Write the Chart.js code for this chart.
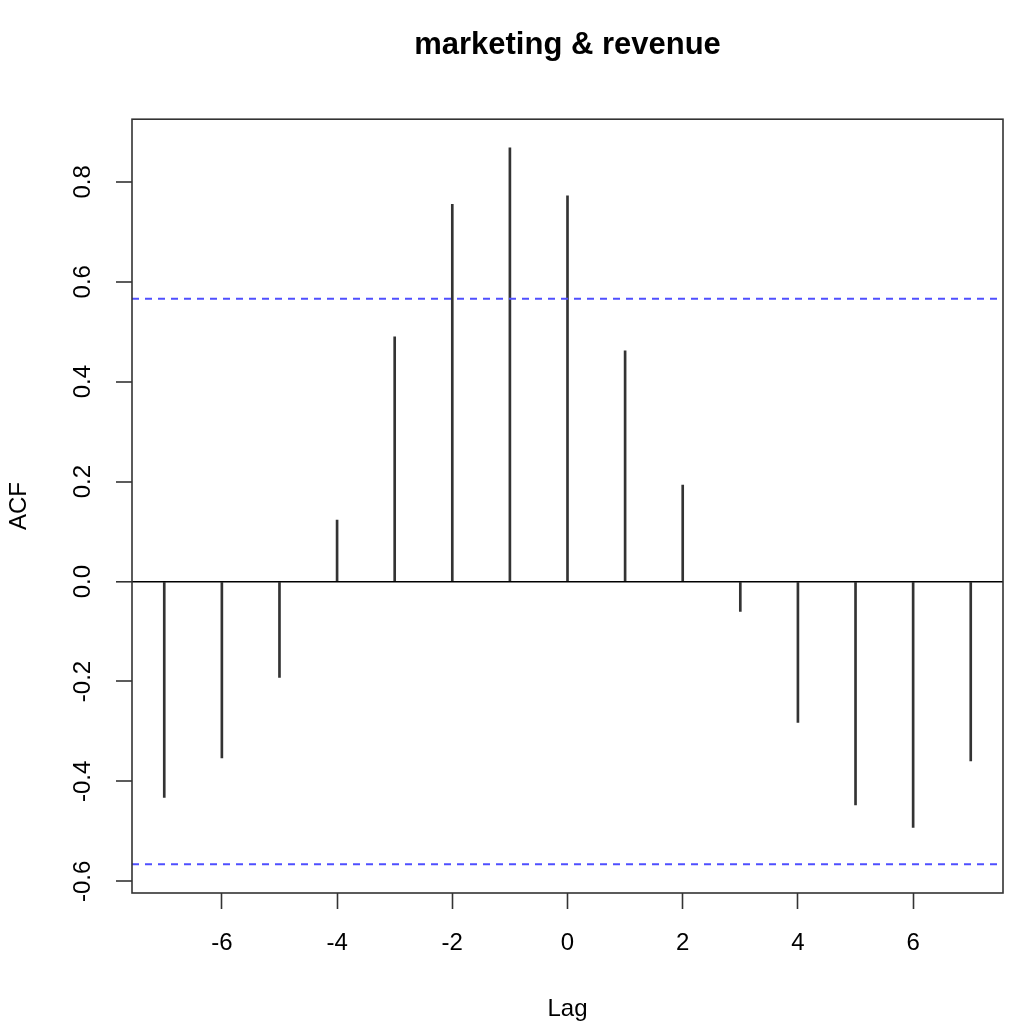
<!DOCTYPE html>
<html>
<head>
<meta charset="utf-8">
<script src="https://cdn.jsdelivr.net/npm/chart.js@4.4.1/dist/chart.umd.min.js"></script>
<style>
  html, body { margin: 0; padding: 0; background: #fff; }
  canvas { display: block; }
</style>
</head>
<body>
<canvas id="ccfChart" width="1013" height="1024"></canvas>
<script>
// cross-correlation of marketing vs revenue
const lags = [-7, -6, -5, -4, -3, -2, -1, 0, 1, 2, 3, 4, 5, 6, 7];
const acfValues = [-0.432, -0.353, -0.192, 0.123, 0.490, 0.755, 0.868, 0.772, 0.462, 0.193, -0.060, -0.282, -0.447, -0.492, -0.359];
const ciLevel = 0.566;
const xTicks = [-6, -4, -2, 0, 2, 4, 6];
const yTicks = [-0.6, -0.4, -0.2, 0.0, 0.2, 0.4, 0.6, 0.8];

const FONT = "'Liberation Sans', Arial, Helvetica, sans-serif";

// R style 4% axis extension
const xLo = Math.min(...lags), xHi = Math.max(...lags);
const yLo = Math.min(-ciLevel, ...acfValues), yHi = Math.max(ciLevel, ...acfValues);
const xPad = (xHi - xLo) * 0.04, yPad = (yHi - yLo) * 0.04;

// frame around the plot + rotated y tick labels, like base R graphics
const rFrame = {
    id: 'rFrame',
    afterDraw(chart) {
        const ctx = chart.ctx;
        const a = chart.chartArea;
        ctx.save();
        ctx.strokeStyle = '#333';
        ctx.lineWidth = 1.6;
        ctx.strokeRect(a.left, a.top, a.right - a.left, a.bottom - a.top);

        const y = chart.scales.y;
        ctx.fillStyle = '#000';
        ctx.font = '24px ' + FONT;
        ctx.textAlign = 'center';
        ctx.textBaseline = 'middle';
        yTicks.forEach(v => {
            ctx.save();
            ctx.translate(83, y.getPixelForValue(v));
            ctx.rotate(-Math.PI / 2);
            ctx.fillText(v.toFixed(1), 0, 0);
            ctx.restore();
        });
        ctx.restore();
    }
};

const ctx = document.getElementById('ccfChart').getContext('2d');
const ccfChart = new Chart(ctx, {
    data: {
        datasets: [{
            type: 'bar',
            data: lags.map((l, i) => ({ x: l, y: acfValues[i] })),
            backgroundColor: '#333',
            barThickness: 2,
            order: 2
        }, {
            type: 'line',
            data: [{ x: xLo - xPad, y: ciLevel }, { x: xHi + xPad, y: ciLevel }],
            borderColor: '#4f4fff',
            borderWidth: 2,
            borderDash: [7, 6],
            pointRadius: 0,
            order: 1
        }, {
            type: 'line',
            data: [{ x: xLo - xPad, y: -ciLevel }, { x: xHi + xPad, y: -ciLevel }],
            borderColor: '#4f4fff',
            borderWidth: 2,
            borderDash: [7, 6],
            pointRadius: 0,
            order: 1
        }]
    },
    options: {
        responsive: false,
        devicePixelRatio: 1,
        animation: false,
        layout: { padding: { left: 0, right: 10, top: 0, bottom: 0 } },
        plugins: {
            legend: { display: false },
            tooltip: { enabled: false },
            title: {
                display: true,
                text: 'marketing & revenue',
                fullSize: false,
                color: '#000',
                font: { family: FONT, size: 31, weight: 'bold' },
                padding: { top: 27, bottom: 55 }
            }
        },
        scales: {
            x: {
                type: 'linear',
                offset: false,
                min: xLo - xPad,
                max: xHi + xPad,
                afterBuildTicks: s => { s.ticks = xTicks.map(v => ({ value: v })); },
                afterFit: s => { s.height = 131; },
                grid: {
                    offset: false,
                    drawOnChartArea: false,
                    drawTicks: true,
                    tickLength: 16,
                    tickWidth: 1.6,
                    tickColor: '#333'
                },
                border: { display: false },
                ticks: {
                    color: '#000',
                    padding: 20,
                    maxRotation: 0,
                    font: { family: FONT, size: 24 }
                },
                title: {
                    display: true,
                    text: 'Lag',
                    color: '#000',
                    font: { family: FONT, size: 24 },
                    padding: { top: 3, bottom: 0 }
                }
            },
            y: {
                type: 'linear',
                min: yLo - yPad,
                max: yHi + yPad,
                afterBuildTicks: s => { s.ticks = yTicks.map(v => ({ value: v })); },
                afterFit: s => { s.width = 132; },
                grid: {
                    drawTicks: true,
                    tickLength: 16,
                    tickWidth: 1.6,
                    tickColor: '#333',
                    color: c => (c.tick && c.tick.value === 0 ? '#000' : 'rgba(0,0,0,0)'),
                    lineWidth: c => (c.tick && c.tick.value === 0 ? 1.6 : 0)
                },
                border: { display: false },
                ticks: { display: false },
                title: {
                    display: true,
                    text: 'ACF',
                    color: '#000',
                    font: { family: FONT, size: 24 },
                    padding: { top: 5, bottom: 0 }
                }
            }
        }
    },
    plugins: [rFrame]
});
</script>
</body>
</html>
